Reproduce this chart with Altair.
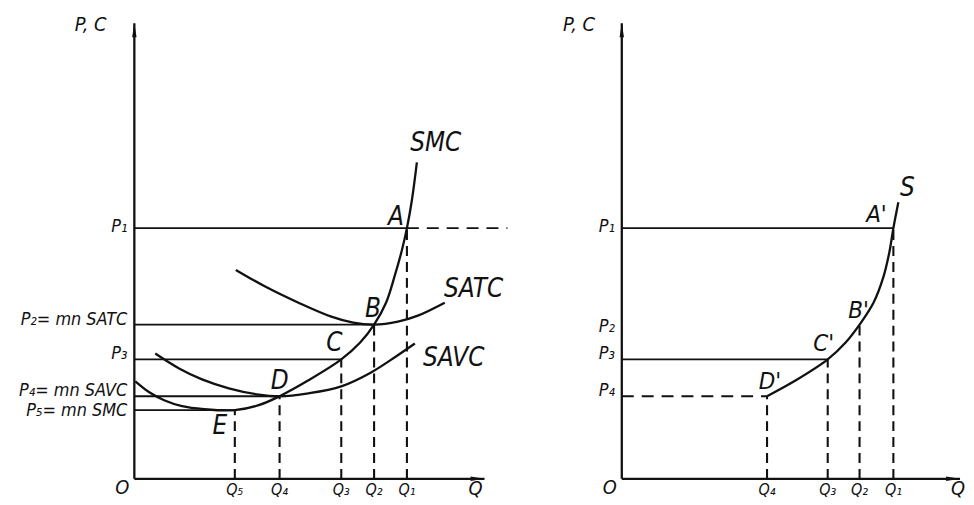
import altair as alt
import pandas as pd

# ---------------- data (Q units along the quantity axis, P units along the price axis) -------------
# Left panel: short-run cost curves
Q_LABELS_L = ["Q₅", "Q₄", "Q₃", "Q₂", "Q₁"]
Q_VALUES_L = [10.1, 14.6, 20.8, 24.1, 27.4]
P_LABELS_L = ["P₁", "P₂= mn SATC", "P₃", "P₄= mn SAVC", "P₅= mn SMC"]
P_VALUES_L = [25.2, 15.5, 12.0, 8.3, 6.9]
P_LABEL_Y_L = [24.8, 15.5, 12.0, 8.3, 6.3]
POINT_NAMES_L = ["A", "B", "C", "D", "E"]          # A=(Q1,P1) ... E=(Q5,P5)

SMC_Q = [0.1, 1.5, 3.0, 4.8, 7.0, 10.1, 12.5, 14.6, 17.5, 20.8, 22.7, 24.1, 25.3, 26.2, 26.9, 27.4, 27.9, 28.4]
SMC_P = [9.8, 8.7, 7.9, 7.3, 7.0, 6.9, 7.4, 8.3, 9.9, 12.0, 13.7, 15.5, 17.7, 20.5, 23.0, 25.2, 28.0, 31.8]
SATC_Q = [10.2, 13.2, 16.5, 19.8, 22.0, 24.1, 26.5, 28.5, 31.2]
SATC_P = [21.0, 19.3, 17.7, 16.3, 15.7, 15.5, 15.8, 16.4, 17.7]
SAVC_Q = [2.1, 4.5, 6.8, 9.5, 12.3, 14.6, 17.5, 20.8, 23.8, 26.3, 28.2]
SAVC_P = [12.6, 11.1, 10.0, 9.1, 8.5, 8.3, 8.6, 9.3, 10.7, 12.3, 13.6]

CURVE_NAMES_L = ["SMC", "SATC", "SAVC"]
CURVE_LABEL_Q_L = [30.3, 34.1, 32.1]
CURVE_LABEL_P_L = [33.0, 18.3, 11.3]
POINT_LABEL_Q_L = [26.3, 24.0, 20.1, 14.6, 8.6]
POINT_LABEL_P_L = [25.5, 16.3, 12.8, 9.0, 4.5]
P1_DASH_END_L = 37.5
Q_AXIS_END_L = 35.2

# Right panel: short-run supply curve
Q_LABELS_R = ["Q₄", "Q₃", "Q₂", "Q₁"]
Q_VALUES_R = [14.6, 20.7, 23.9, 27.3]
P_LABELS_R = ["P₁", "P₂", "P₃", "P₄"]
P_VALUES_R = [25.2, 15.5, 12.0, 8.3]
P_LABEL_Y_R = [24.8, 14.8, 12.0, 8.3]
POINT_NAMES_R = ["A'", "B'", "C'", "D'"]           # A'=(Q1,P1) ... D'=(Q4,P4)
POINT_LABEL_Q_R = [25.6, 23.8, 20.3, 14.9]
POINT_LABEL_P_R = [25.8, 16.2, 12.8, 9.0]

S_Q = [14.6, 17.5, 20.7, 22.5, 23.9, 25.3, 26.3, 26.9, 27.3, 27.8]
S_P = [8.3, 9.9, 12.0, 13.7, 15.5, 17.7, 20.3, 22.8, 25.2, 27.8]
S_LABEL = ("S", 28.7, 28.4)
Q_AXIS_END_R = 34.0

P_AXIS_END = 45.8
AXIS_TITLE_P = ("P, C", -4.4, 45.0)
AXIS_TITLE_Q_L = ("Q", 34.3, -1.6)
AXIS_TITLE_Q_R = ("Q", 33.8, -1.6)
ORIGIN = ("O", -1.2, -1.5)

# ---------------- styling ----------------
INK = "#111111"
FONT = "DejaVu Sans Condensed"
H = 489
Y_DOM = [-1.7, 47.2]


def enc(xs, ys, x="x", y="y"):
    return dict(
        x=alt.X(f"{x}:Q", scale=xs, axis=None),
        y=alt.Y(f"{y}:Q", scale=ys, axis=None),
    )


def segs(xs, ys, df, dash=None, width=1.6):
    kw = dict(color=INK, strokeWidth=width)
    if dash:
        kw["strokeDash"] = dash
    return alt.Chart(df).mark_rule(**kw).encode(
        x=alt.X("x:Q", scale=xs, axis=None),
        x2="x2:Q",
        y=alt.Y("y:Q", scale=ys, axis=None),
        y2="y2:Q",
    )


def texts(xs, ys, df, size, align="center", dx=0):
    return alt.Chart(df).mark_text(
        font=FONT, fontStyle="italic", fontSize=size, align=align,
        baseline="alphabetic", dx=dx, color=INK,
    ).encode(text="label:N", **enc(xs, ys))


def axes(xs, ys, q_end):
    ax = pd.DataFrame({"x": [0, 0], "x2": [q_end, 0], "y": [0, 0], "y2": [0, P_AXIS_END]})
    lines = segs(xs, ys, ax, width=2.3)
    up = alt.Chart(pd.DataFrame({"x": [0], "y": [P_AXIS_END - 0.7]})).mark_point(
        shape="M0,-1L0.32,1L-0.32,1Z", size=196, filled=True, color=INK, opacity=1
    ).encode(**enc(xs, ys))
    right = alt.Chart(pd.DataFrame({"x": [q_end - 0.7], "y": [0]})).mark_point(
        shape="M1,0L-1,0.32L-1,-0.32Z", size=196, filled=True, color=INK, opacity=1
    ).encode(**enc(xs, ys))
    return lines + up + right


def curves(xs, ys, names, qs, ps):
    rows = []
    for n, q, p in zip(names, qs, ps):
        for i, (a, b) in enumerate(zip(q, p)):
            rows.append({"curve": n, "i": i, "x": a, "y": b})
    return alt.Chart(pd.DataFrame(rows)).mark_line(
        color=INK, strokeWidth=2.3, interpolate="catmull-rom"
    ).encode(detail="curve:N", order="i:Q", **enc(xs, ys))


# ---------------- left panel ----------------
xsL = alt.Scale(domain=[-12.7, 42.5], nice=False, zero=False)
ysL = alt.Scale(domain=Y_DOM, nice=False, zero=False)

ptsL_q = Q_VALUES_L[::-1]  # A..E quantities
ptsL_p = P_VALUES_L
hL = pd.DataFrame({"x": [0] * 5, "x2": ptsL_q, "y": ptsL_p, "y2": ptsL_p})
hL_dash = pd.DataFrame({"x": [ptsL_q[0]], "x2": [P1_DASH_END_L], "y": [ptsL_p[0]], "y2": [ptsL_p[0]]})
vL = pd.DataFrame({"x": ptsL_q, "x2": ptsL_q, "y": [0] * 5, "y2": ptsL_p})

left = alt.layer(
    segs(xsL, ysL, hL, width=1.8),
    segs(xsL, ysL, hL_dash, dash=[12, 8], width=1.9),
    segs(xsL, ysL, vL, dash=[10, 6], width=2.1),
    axes(xsL, ysL, Q_AXIS_END_L),
    curves(xsL, ysL, CURVE_NAMES_L, [SMC_Q, SATC_Q, SAVC_Q], [SMC_P, SATC_P, SAVC_P]),
    texts(xsL, ysL, pd.DataFrame({"label": CURVE_NAMES_L, "x": CURVE_LABEL_Q_L, "y": CURVE_LABEL_P_L}), 26),
    texts(xsL, ysL, pd.DataFrame({"label": POINT_NAMES_L, "x": POINT_LABEL_Q_L, "y": POINT_LABEL_P_L}), 26),
    texts(xsL, ysL, pd.DataFrame({"label": P_LABELS_L, "x": [0] * 5, "y": P_LABEL_Y_L}), 18, align="right", dx=-7),
    texts(xsL, ysL, pd.DataFrame({"label": Q_LABELS_L, "x": Q_VALUES_L, "y": [AXIS_TITLE_Q_L[2]] * 5}), 16),
    texts(xsL, ysL, pd.DataFrame({"label": [AXIS_TITLE_P[0], AXIS_TITLE_Q_L[0], ORIGIN[0]],
                                  "x": [AXIS_TITLE_P[1], AXIS_TITLE_Q_L[1], ORIGIN[1]],
                                  "y": [AXIS_TITLE_P[2], AXIS_TITLE_Q_L[2], ORIGIN[2]]}), 20),
).properties(width=552, height=H)

# ---------------- right panel ----------------
xsR = alt.Scale(domain=[-6.5, 34.1], nice=False, zero=False)
ysR = alt.Scale(domain=Y_DOM, nice=False, zero=False)

ptsR_q = Q_VALUES_R[::-1]  # A'..D'
ptsR_p = P_VALUES_R
hR = pd.DataFrame({"x": [0, 0], "x2": [ptsR_q[0], ptsR_q[2]], "y": [ptsR_p[0], ptsR_p[2]], "y2": [ptsR_p[0], ptsR_p[2]]})
hR_dash = pd.DataFrame({"x": [0], "x2": [ptsR_q[3]], "y": [ptsR_p[3]], "y2": [ptsR_p[3]]})
vR = pd.DataFrame({"x": ptsR_q, "x2": ptsR_q, "y": [0] * 4, "y2": ptsR_p})

right = alt.layer(
    segs(xsR, ysR, hR, width=1.8),
    segs(xsR, ysR, hR_dash, dash=[12, 8], width=1.9),
    segs(xsR, ysR, vR, dash=[10, 6], width=2.1),
    axes(xsR, ysR, Q_AXIS_END_R),
    curves(xsR, ysR, ["S"], [S_Q], [S_P]),
    texts(xsR, ysR, pd.DataFrame({"label": [S_LABEL[0]], "x": [S_LABEL[1]], "y": [S_LABEL[2]]}), 26),
    texts(xsR, ysR, pd.DataFrame({"label": POINT_NAMES_R, "x": POINT_LABEL_Q_R, "y": POINT_LABEL_P_R}), 24),
    texts(xsR, ysR, pd.DataFrame({"label": P_LABELS_R, "x": [0] * 4, "y": P_LABEL_Y_R}), 18, align="right", dx=-7),
    texts(xsR, ysR, pd.DataFrame({"label": Q_LABELS_R, "x": Q_VALUES_R, "y": [AXIS_TITLE_Q_R[2]] * 4}), 16),
    texts(xsR, ysR, pd.DataFrame({"label": [AXIS_TITLE_P[0], AXIS_TITLE_Q_R[0], ORIGIN[0]],
                                  "x": [-4.3, AXIS_TITLE_Q_R[1], ORIGIN[1]],
                                  "y": [AXIS_TITLE_P[2], AXIS_TITLE_Q_R[2], ORIGIN[2]]}), 20),
).properties(width=406, height=H)

chart = alt.hconcat(left, right, spacing=0).configure_view(stroke=None).properties(padding=0)

chart.save("out.html", embed_options={"renderer": "svg", "actions": False})
